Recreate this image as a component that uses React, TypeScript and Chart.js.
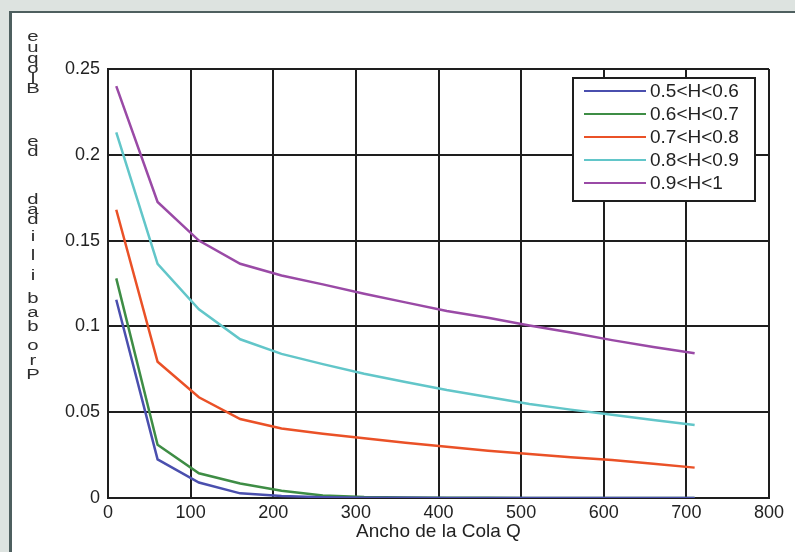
import React, { useEffect, useRef } from 'react';
import { Chart, registerables } from 'chart.js';

Chart.register(...registerables);

// ---- data ----
const queueWidths = [10, 60, 110, 160, 210, 260, 310, 360, 410, 460, 510, 560, 610, 660, 710];
const seriesLabels = ['0.5<H<0.6', '0.6<H<0.7', '0.7<H<0.8', '0.8<H<0.9', '0.9<H<1'];
const seriesColors = ['#4a4fae', '#3e8d45', '#ea5127', '#62c6c9', '#9a4aa6'];
const h05to06 = [0.1155, 0.0225, 0.009, 0.0027, 0.0012, 0.0005, 0.0002, 0.0001, 0.00005, 0.00003, 0.00002, 0.00001, 0.00001, 0.0, 0.0];
const h06to07 = [0.128, 0.031, 0.0144, 0.0085, 0.0042, 0.0015, 0.0006, 0.0003, 0.00015, 0.0001, 0.00005, 0.00003, 0.00002, 0.00001, 0.00001];
const h07to08 = [0.168, 0.0794, 0.0587, 0.046, 0.0405, 0.0375, 0.0348, 0.0322, 0.0298, 0.0276, 0.0256, 0.0238, 0.0221, 0.0199, 0.0177];
const h08to09 = [0.213, 0.1364, 0.11, 0.0925, 0.084, 0.078, 0.0724, 0.0676, 0.0629, 0.0588, 0.0548, 0.0515, 0.0485, 0.0455, 0.0425];
const h09to1 = [0.24, 0.1725, 0.15, 0.1365, 0.1297, 0.1245, 0.119, 0.114, 0.109, 0.105, 0.1005, 0.0965, 0.092, 0.088, 0.0843];
const xTickValues = [0, 100, 200, 300, 400, 500, 600, 700, 800];
const yTickValues = [0, 0.05, 0.1, 0.15, 0.2, 0.25];
const yTickLabels = ['0', '0.05', '0.1', '0.15', '0.2', '0.25'];
const xTitle = 'Ancho de la Cola Q';
// y title is drawn as stacked characters (as in the original figure)
const yTitleChars = 'euqolBeddadilibaborP'.split('');
const yTitleCharY = [37, 48, 59, 69, 79, 89, 142, 152, 200, 210, 220, 237, 256, 276, 299, 313, 327, 346, 361, 375];

const FONT = '"Liberation Sans", Arial, Helvetica, sans-serif';

const yTitlePlugin = {
  id: 'stackedYTitle',
  afterDraw(chart: any) {
    const ctx = chart.ctx;
    ctx.save();
    ctx.fillStyle = '#2e2e2e';
    ctx.font = `14px ${FONT}`;
    ctx.textAlign = 'center';
    ctx.textBaseline = 'middle';
    yTitleChars.forEach((ch, i) => {
      ctx.save();
      ctx.translate(33, yTitleCharY[i]);
      ctx.scale(1.45, 1);
      ctx.fillText(ch, 0, 0);
      ctx.restore();
    });
    ctx.restore();
  },
};

const legendPlugin = {
  id: 'insideLegend',
  afterDraw(chart: any) {
    const ctx = chart.ctx;
    const area = chart.chartArea;
    const left = area.right - 196;
    const top = area.top + 9;
    const w = 182;
    const h = 123;
    ctx.save();
    ctx.fillStyle = '#ffffff';
    ctx.fillRect(left, top, w, h);
    ctx.strokeStyle = '#1e1e1e';
    ctx.lineWidth = 2;
    ctx.strokeRect(left, top, w, h);
    ctx.font = `19px ${FONT}`;
    ctx.textBaseline = 'middle';
    ctx.textAlign = 'left';
    chart.data.datasets.forEach((ds: any, i: number) => {
      const y = top + 13 + i * 23;
      ctx.strokeStyle = ds.borderColor;
      ctx.lineWidth = 2;
      ctx.beginPath();
      ctx.moveTo(left + 11, y);
      ctx.lineTo(left + 73, y);
      ctx.stroke();
      ctx.fillStyle = '#222222';
      ctx.fillText(ds.label, left + 77, y + 1);
    });
    ctx.restore();
  },
};

export default function App() {
  const canvasRef = useRef<HTMLCanvasElement | null>(null);

  useEffect(() => {
    if (!canvasRef.current) return;
    const seriesData = [h05to06, h06to07, h07to08, h08to09, h09to1];
    const chart = new Chart(canvasRef.current, {
      type: 'line',
      data: {
        labels: queueWidths,
        datasets: seriesData.map((vals, i) => ({
          label: seriesLabels[i],
          data: vals.map((v, j) => ({ x: queueWidths[j], y: v })),
          borderColor: seriesColors[i],
          backgroundColor: seriesColors[i],
          borderWidth: 2.5,
          pointRadius: 0,
          tension: 0,
          fill: false,
        })),
      },
      options: {
        animation: false,
        responsive: false,
        devicePixelRatio: 1,
        layout: { padding: { left: 0, top: 69, right: 26, bottom: 0 } },
        plugins: {
          legend: { display: false },
          tooltip: { enabled: false },
        },
        scales: {
          x: {
            type: 'linear',
            min: 0,
            max: 800,
            afterBuildTicks: (scale: any) => {
              scale.ticks = xTickValues.map((v) => ({ value: v }));
            },
            afterFit: (scale: any) => {
              scale.height = 54;
            },
            grid: { color: '#1e1e1e', lineWidth: 2, drawTicks: false },
            border: { display: true, color: '#1e1e1e', width: 2 },
            ticks: {
              padding: 4,
              color: '#222222',
              font: { family: FONT, size: 18 },
              maxRotation: 0,
              callback: (v: any) => String(v),
            },
            title: {
              display: true,
              text: xTitle,
              color: '#222222',
              font: { family: FONT, size: 19 },
              padding: { top: 0, bottom: 9 },
            },
          },
          y: {
            type: 'linear',
            min: 0,
            max: 0.25,
            afterBuildTicks: (scale: any) => {
              scale.ticks = yTickValues.map((v) => ({ value: v }));
            },
            afterFit: (scale: any) => {
              scale.width = 108;
            },
            grid: { color: '#1e1e1e', lineWidth: 2, drawTicks: false },
            border: { display: true, color: '#1e1e1e', width: 2 },
            ticks: {
              padding: 8,
              color: '#222222',
              font: { family: FONT, size: 18 },
              callback: (_v: any, i: number) => yTickLabels[i],
            },
          },
        },
      },
      plugins: [yTitlePlugin, legendPlugin],
    });
    return () => chart.destroy();
  }, []);

  return (
    <div
      style={{
        position: 'fixed',
        left: 0,
        top: 0,
        width: 795,
        height: 552,
        background: '#dde3e0',
        overflow: 'hidden',
      }}
    >
      <div
        style={{
          position: 'absolute',
          left: 9,
          top: 11,
          right: -10,
          bottom: -10,
          background: '#ffffff',
          borderLeft: '3px solid #4e5f5f',
          borderTop: '2px solid #4e5f5f',
        }}
      />
      <canvas
        ref={canvasRef}
        width={795}
        height={552}
        style={{ position: 'absolute', left: 0, top: 0, width: 795, height: 552 }}
      />
    </div>
  );
}
